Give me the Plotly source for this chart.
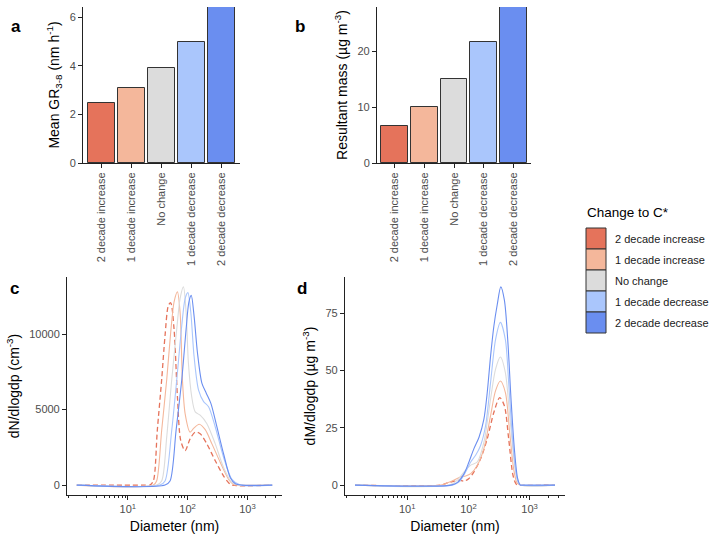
import math

import plotly.graph_objects as go


# ==========================================================
# DATA
# ==========================================================

CATEGORIES = [
    "2 decade increase",
    "1 decade increase",
    "No change",
    "1 decade decrease",
    "2 decade decrease",
]

COLORS = ["#E5735B", "#F4B79B", "#DCDCDC", "#AAC6FC", "#6A8EF0"]

# panel a / b bar heights
GR_MEAN = [2.49, 3.08, 3.92, 5.0, 6.42]
MASS = [6.67, 10.05, 15.0, 21.6, 27.9]

# panel c: number size distributions (diameter nm, dN/dlogdp)
N_DP_INC2 = [1.4, 20, 23.4, 26.7, 31.1, 36.8, 41.9, 47.7, 52.1, 59.3, 67.5, 76.7,
             90.8, 110, 134, 162, 210, 290, 400, 485, 552, 2600]
N_INC2 = [0, 0, 0, 270, 3620, 6980, 9890, 11900, 12080, 10340, 5860, 2950,
          2280, 3060, 3510, 3400, 2730, 1610, 600, 160, 0, 0]

N_DP_INC1 = [1.4, 26.7, 30.3, 36.8, 44.7, 52.1, 59.3, 67.5, 74.8, 81.9, 90.8, 110,
             125, 156, 197, 255, 352, 485, 589, 670, 2600]
N_INC1 = [0, 0, 270, 3620, 6980, 10110, 12130, 12800, 11450, 6980, 4740, 3510,
          3740, 4030, 3670, 2730, 1500, 380, 45, 0, 0]

N_DP_NOCH = [1.4, 30.3, 36.8, 44.7, 54.2, 65.8, 74.8, 85.1, 94.4, 103, 117, 134,
             162, 210, 290, 400, 552, 714, 2600]
N_NOCH = [0, 0, 270, 3180, 6980, 10340, 12350, 13130, 11450, 8100, 5860, 4850,
          4630, 4070, 2730, 1160, 160, 0, 0]

N_DP_DEC1 = [1.4, 34.5, 41.9, 54.2, 65.8, 79.8, 90.8, 101, 113, 128, 152, 185,
             224, 290, 400, 552, 762, 2600]
N_DEC1 = [0, 0, 270, 3620, 6980, 10560, 12350, 12750, 11450, 8550, 6310, 5530,
          5190, 3850, 1830, 380, 0, 0]

N_DP_DEC2 = [1.4, 41.9, 50.8, 64.1, 79.8, 94.4, 105, 115, 128, 146, 173, 205,
             245, 309, 400, 518, 628, 813, 2600]
N_DEC2 = [0, 0, 270, 3620, 6980, 10340, 12130, 12570, 11230, 8770, 6760, 6090,
          5410, 3850, 2060, 490, 90, 0, 0]

# panel d: mass size distributions (diameter nm, dM/dlogdp)
M_DP_INC2 = [1.4, 35.6, 45.6, 58.5, 70.5, 84.9, 102, 123, 158, 203, 260, 325,
             387, 455, 535, 606, 700, 2600]
M_INC2 = [0, 0, 1.0, 1.7, 2.2, 1.7, 2.9, 5.8, 11.5, 20.2, 31.7, 38.2,
          34.6, 20.2, 4.3, 0.4, 0, 0]

M_DP_INC1 = [1.4, 35.6, 45.6, 58.5, 75.0, 90.3, 109, 140, 179, 230, 277, 333,
             402, 472, 548, 621, 700, 2600]
M_INC1 = [0, 0, 1.0, 2.2, 3.6, 4.0, 5.0, 8.7, 15.9, 30.3, 41.1, 45.4,
          40.4, 23.1, 7.2, 1.0, 0, 0]

M_DP_NOCH = [1.4, 48.5, 66.2, 84.9, 109, 140, 179, 230, 277, 333, 402, 472,
             548, 637, 720, 2600]
M_NOCH = [0, 0, 2.2, 5.8, 8.7, 10.1, 18.7, 37.5, 50.5, 55.9, 49.0, 30.3,
          13.0, 2.2, 0, 0]

M_DP_DEC1 = [1.4, 55, 70.5, 90.3, 109, 131, 158, 191, 230, 277, 333, 402,
             455, 515, 583, 661, 740, 2600]
M_DEC1 = [0, 0, 1.4, 5.8, 10.1, 13.0, 17.3, 26.0, 44.7, 63.4, 71.0, 63.4,
          44.7, 23.1, 7.2, 0.7, 0, 0]

M_DP_DEC2 = [1.4, 51.6, 66.2, 84.9, 102, 123, 149, 179, 203, 230, 260, 295,
             338, 387, 439, 497, 563, 637, 704, 780, 2600]
M_DEC2 = [0, 0, 1.2, 5.0, 10.1, 15.9, 20.9, 28.8, 40.4, 56.2, 69.2, 78.6,
          86.5, 80.7, 63.4, 37.5, 15.9, 2.9, 0, 0, 0]

N_SERIES = [(N_DP_INC2, N_INC2), (N_DP_INC1, N_INC1), (N_DP_NOCH, N_NOCH),
            (N_DP_DEC1, N_DEC1), (N_DP_DEC2, N_DEC2)]
M_SERIES = [(M_DP_INC2, M_INC2), (M_DP_INC1, M_INC1), (M_DP_NOCH, M_NOCH),
            (M_DP_DEC1, M_DEC1), (M_DP_DEC2, M_DEC2)]

TICK_DP = [10, 100, 1000]
TICK_DP_TEXT = ["10<sup>1</sup>", "10<sup>2</sup>", "10<sup>3</sup>"]


# ==========================================================
# STYLE
# ==========================================================

FONT = "Arial, Liberation Sans, sans-serif"
AXIS_COLOR = "#222222"
TICK_FONT = dict(family=FONT, size=11, color="#4D4D4D")
TITLE_FONT = dict(family=FONT, size=14, color="black")
W, H = 720, 540


def px(x):
    return x / W


def py(y):
    return 1 - y / H


AXIS = dict(
    showline=True,
    linecolor=AXIS_COLOR,
    linewidth=1.1,
    ticks="outside",
    ticklen=4,
    tickcolor=AXIS_COLOR,
    showgrid=False,
    zeroline=False,
    automargin=False,
    tickfont=TICK_FONT,
    title_font=TITLE_FONT,
)

Y_AXIS = dict(AXIS, title_standoff=6)


fig = go.Figure()

# ----- bars (a, b)
for values, xa, ya in [(GR_MEAN, "x", "y"), (MASS, "x2", "y2")]:
    fig.add_trace(
        go.Bar(
            x=CATEGORIES,
            y=values,
            width=0.9,
            marker=dict(color=COLORS, line=dict(color="#333333", width=1)),
            xaxis=xa,
            yaxis=ya,
            showlegend=False,
        )
    )

# ----- size distributions (c, d)
for series, xa, ya in [(N_SERIES, "x3", "y3"), (M_SERIES, "x4", "y4")]:
    for i, (dp, val) in enumerate(series):
        fig.add_trace(
            go.Scatter(
                x=dp,
                y=val,
                mode="lines",
                line=dict(
                    color=COLORS[i],
                    width=1.3 if i == 0 else 1.1,
                    dash="5px,3px" if i == 0 else "solid",
                    shape="spline",
                    smoothing=0.8,
                ),
                xaxis=xa,
                yaxis=ya,
                showlegend=False,
            )
        )

# log x range with ggplot-like 5 % expansion
all_dp = [d for dp, _ in N_SERIES for d in dp]
lo, hi = math.log10(min(all_dp)), math.log10(max(all_dp))
pad = (hi - lo) * 0.05
LOG_RANGE = [lo - pad, hi + pad]

n_max = max(max(v) for _, v in N_SERIES)
m_max = max(max(v) for _, v in M_SERIES)

cat_axis = dict(AXIS, tickangle=-90, range=[-0.6, 4.6])
log_axis = dict(
    AXIS,
    type="log",
    range=LOG_RANGE,
    tickmode="array",
    tickvals=TICK_DP,
    ticktext=TICK_DP_TEXT,
    title_text="Diameter (nm)",
    title_standoff=6,
    minor=dict(ticks="outside", ticklen=2, tickcolor=AXIS_COLOR, dtick="D1", showgrid=False),
)

fig.update_layout(
    template="none",
    width=W,
    height=H,
    margin=dict(l=0, r=0, t=0, b=0),
    plot_bgcolor="white",
    paper_bgcolor="white",
    font=dict(family=FONT),
    bargap=0,
    xaxis=dict(cat_axis, domain=[px(83), px(240)], anchor="y"),
    yaxis=dict(
        Y_AXIS,
        domain=[py(163), py(7)],
        anchor="x",
        range=[0, max(GR_MEAN)],
        tickvals=[0, 2, 4, 6],
        title_text="Mean GR<sub>3-8</sub> (nm h<sup>-1</sup>)",
    ),
    xaxis2=dict(cat_axis, domain=[px(377), px(531)], anchor="y2"),
    yaxis2=dict(
        Y_AXIS,
        domain=[py(163), py(7)],
        anchor="x2",
        range=[0, max(MASS)],
        tickvals=[0, 10, 20],
        title_text="Resultant mass (µg m<sup>-3</sup>)",
    ),
    xaxis3=dict(log_axis, domain=[px(67), px(282)], anchor="y3"),
    yaxis3=dict(
        Y_AXIS,
        domain=[py(495), py(277)],
        anchor="x3",
        range=[-0.05 * n_max, 1.05 * n_max],
        tickvals=[0, 5000, 10000],
        tickformat="d",
        title_text="dN/dlogdp (cm<sup>-3</sup>)",
    ),
    xaxis4=dict(log_axis, domain=[px(345), px(565)], anchor="y4"),
    yaxis4=dict(
        Y_AXIS,
        domain=[py(495), py(277)],
        anchor="x4",
        range=[-0.05 * m_max, 1.05 * m_max],
        tickvals=[0, 25, 50, 75],
        title_text="dM/dlogdp (µg m<sup>-3</sup>)",
    ),
)

# ----- panel letters
for letter, x, y in [("a", 9, 15), ("b", 300, 15), ("c", 8, 288), ("d", 302, 288)]:
    fig.add_annotation(
        text=f"<b>{letter}</b>", x=px(x), y=py(y), xref="paper", yref="paper",
        showarrow=False, font=dict(family=FONT, size=17, color="black"),
    )

# ----- legend (ggplot-style keys)
fig.add_annotation(
    text="Change to C*", x=px(585), y=py(213), xref="paper", yref="paper",
    xanchor="left", showarrow=False, font=dict(family=FONT, size=13.5, color="black"),
)
KEY_TOP, KEY_H = 228, 21
for i, (cat, col) in enumerate(zip(CATEGORIES, COLORS)):
    y0 = KEY_TOP + i * KEY_H
    fig.add_shape(
        type="rect", xref="paper", yref="paper",
        x0=px(586), x1=px(606), y0=py(y0 + KEY_H), y1=py(y0),
        fillcolor=col, line=dict(color="#333333", width=1),
    )
    fig.add_annotation(
        text=cat, x=px(613), y=py(y0 + KEY_H / 2), xref="paper", yref="paper",
        xanchor="left", showarrow=False, font=dict(family=FONT, size=11, color="#1A1A1A"),
    )

fig.write_html(
    "out.html",
    config={"displayModeBar": False},
    post_script="document.body.style.margin='0px';",
)
